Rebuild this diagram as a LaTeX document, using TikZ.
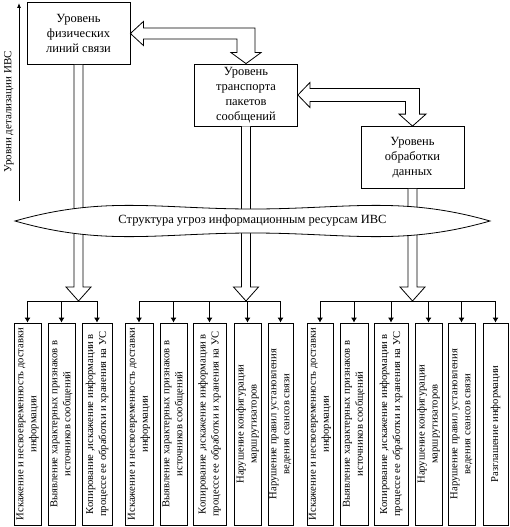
\documentclass[tikz,border=0pt]{standalone}
\usepackage{fontspec}
\setmainfont{Liberation Serif}
\usetikzlibrary{calc,arrows.meta}

\newcommand{\tIsk}{Искажение и несвоевременность доставки\\информации}
\newcommand{\tVyy}{Выявление характерных признаков в\\источников сообщений}
\newcommand{\tKop}{Копирование ,искажение информации в\\процессе ее обработки и хранения на УС}
\newcommand{\tMar}{Нарушение конфигурации\\маршрутизаторов}
\newcommand{\tSea}{Нарушение правил установления\\ведения сеансов связи}
\newcommand{\tRaz}{Разглашение информации}

\begin{document}
\begin{tikzpicture}[x=1pt,y=-1pt,line width=0.8pt,
    level/.style={draw, fill=white, minimum width=103pt, minimum height=62pt,
                  align=center, inner sep=1pt, font=\fontsize{12.5}{15}\selectfont},
    threat/.style={draw, rotate=90, minimum width=202pt, inner xsep=0pt, inner ysep=0.5pt,
                   align=center, font=\fontsize{10.6}{13}\selectfont},
    hollow/.style={draw, fill=white, line join=miter},
    branch/.style={-{Latex[length=5pt,width=6pt]}}]
    \useasboundingbox (0,0) rectangle (509,527);
    % Ось уровней детализации
    \coordinate (ax0) at (19,201);
    \coordinate (ax1) at (19,3);
    \draw[-{Latex[length=5pt,width=4pt]}] (ax0) -- (ax1);
    \node[rotate=90, font=\fontsize{11}{13}\selectfont] (axl) at (9,112) {Уровни детализации ИВС};
    % Уровни ИВС
    \node[level] (l1) at (78.5,33.5) {Уровень\\физических\\линий связи};
    \node[level] (l2) at (246,95) {Уровень\\транспорта\\пакетов\\сообщений};
    \node[level] (l3) at (412.5,157.5) {Уровень\\обработки\\данных};
    % Двусторонние стрелки между уровнями
    \draw[hollow] (l1.east) -- ++(13,-12) -- ++(0,6.5) -| ($(l2.north)+(9,-11)$) -- ++(6,0)
        -- (l2.north) -- ++(-15,-11) -- ++(6,0) |- ($(l1.east)+(13,5.5)$) -- ++(0,6.5) -- cycle;
    \draw[hollow] (l2.east) -- ++(12,-12.5) -- ++(0,6) -| ($(l3.north)+(7,-12)$) -- ++(6.5,0)
        -- (l3.north) -- ++(-13.5,-12) -- ++(6.5,0) |- ($(l2.east)+(12,6.5)$) -- ++(0,6) -- cycle;
    % Стрелки вниз к группам угроз
    \foreach \i in {1,2,3} {
        \coordinate (j\i) at (l\i.south |- 0,301);
        \draw[hollow] ($(l\i.south)+(-4.5,0)$) -- ($(j\i)+(-4.5,-14)$) -- ++(-8,0) -- (j\i)
            -- ++(12.5,-14) -- ++(-8,0) -- ($(l\i.south)+(4.5,0)$);
    }
    % Структура угроз
    \coordinate (thrW) at (15,221);
    \coordinate (thrE) at (490,221);
    \coordinate (thrN) at (252.5,209);
    \coordinate (thrS) at (252.5,233);
    \draw[fill=white] (thrW) to[out=16,in=180] (thrN) to[out=0,in=164] (thrE)
        to[out=196,in=0] (thrS) to[out=180,in=-16] (thrW) -- cycle;
    \node[font=\fontsize{12.5}{15}\selectfont] (thr) at (252.5,221) {Структура угроз информационным ресурсам ИВС};
    % Угрозы уровня физических линий связи
    \foreach \n/\x/\w/\t in {t11/27.5/27/\tIsk, t12/61.5/27/\tVyy, t13/97/30/\tKop}
        \node[threat, minimum height=\w pt] (\n) at (\x,424) {\t};
    % Угрозы уровня транспорта
    \foreach \n/\x/\w/\t in {t21/139/28/\tIsk, t22/173.5/27/\tVyy, t23/209.5/33/\tKop,
                             t24/247.5/27/\tMar, t25/280.5/25/\tSea}
        \node[threat, minimum height=\w pt] (\n) at (\x,424) {\t};
    % Угрозы уровня обработки данных
    \foreach \n/\x/\w/\t in {t31/320/26/\tIsk, t32/354/28/\tVyy, t33/391/34/\tKop,
                             t34/428.5/27/\tMar, t35/461.5/27/\tSea, t36/495.5/25/\tRaz}
        \node[threat, minimum height=\w pt] (\n) at (\x,424) {\t};
    % Ветвления
    \draw (t11 |- j1) -- (t13 |- j1);
    \draw (t21 |- j2) -- (t25 |- j2);
    \draw (t31 |- j3) -- (t36 |- j3);
    \foreach \n/\j in {t11/j1, t12/j1, t13/j1, t21/j2, t22/j2, t23/j2, t24/j2, t25/j2,
                       t31/j3, t32/j3, t33/j3, t34/j3, t35/j3, t36/j3}
        \draw[branch] (\n |- \j) -- (\n.east);
\end{tikzpicture}
\end{document}
